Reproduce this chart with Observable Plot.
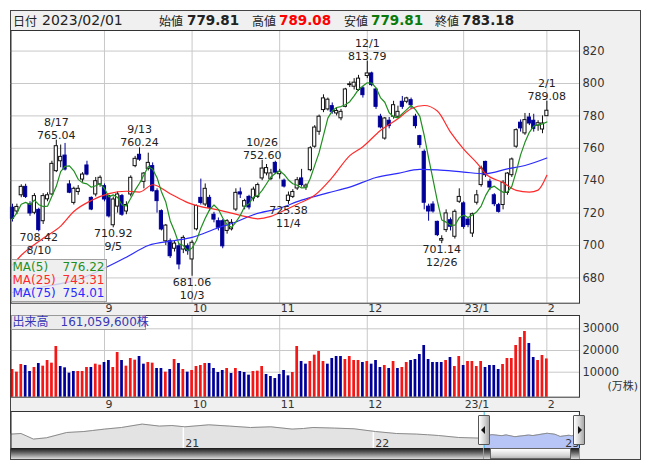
<!DOCTYPE html>
<html lang="ja"><head><meta charset="utf-8">
<script src="https://cdn.jsdelivr.net/npm/d3@7"></script>
<script src="https://cdn.jsdelivr.net/npm/@observablehq/plot@0.6"></script>
<style>
html,body{margin:0;padding:0;background:#fff;}
body{position:relative;width:653px;height:470px;overflow:hidden;font-family:"DejaVu Sans","Noto Sans CJK JP",sans-serif;}
.a{position:absolute;}
.hk{position:absolute;top:11px;height:19px;line-height:19px;font-family:"Noto Sans CJK JP",sans-serif;font-size:12px;color:#222;white-space:nowrap;}
.hn{position:absolute;top:11px;height:19px;line-height:19px;font-family:"DejaVu Sans",sans-serif;font-size:14px;color:#222;white-space:nowrap;}
.hb{position:absolute;top:11px;height:19px;line-height:19px;font-family:"DejaVu Sans",sans-serif;font-size:13.5px;font-weight:bold;color:#222;white-space:nowrap;}
.row{position:relative;height:13.3px;line-height:13.3px;font-size:12px;white-space:nowrap;}
.row .v{position:absolute;right:1px;top:0;}
.row .nm{position:absolute;left:1px;top:0;}
</style></head><body>
<div class="a" style="left:10px;top:10px;width:631px;height:450px;background:#f0f0f0;border:1px solid #444;box-sizing:border-box"></div>
<div id="hdr"></div>
<div id="price" class="a" style="left:10px;top:30px;width:631px"></div>
<div id="vol" class="a" style="left:10px;top:315px;width:631px"></div>
<div id="nav" class="a" style="left:10px;top:410.7px;width:631px"></div>
<div id="overlay"></div>
<script>
// ---------------- data ----------------
const dates = ["8/2","8/3","8/4","8/5","8/8","8/9","8/10","8/12","8/15","8/16","8/17","8/18","8/19","8/22","8/23","8/24","8/25","8/26","8/29","8/30","8/31",
"9/1","9/2","9/5","9/6","9/7","9/8","9/9","9/12","9/13","9/14","9/15","9/16","9/20","9/21","9/22","9/26","9/27","9/28","9/29","9/30",
"10/3","10/4","10/5","10/6","10/7","10/11","10/12","10/13","10/14","10/17","10/18","10/19","10/20","10/21","10/24","10/25","10/26","10/27","10/28","10/31",
"11/1","11/2","11/4","11/7","11/8","11/9","11/10","11/11","11/14","11/15","11/16","11/17","11/18","11/21","11/22","11/24","11/25","11/28","11/29","11/30",
"12/1","12/2","12/5","12/6","12/7","12/8","12/9","12/12","12/13","12/14","12/15","12/16","12/19","12/20","12/21","12/22","12/23","12/26","12/27","12/28","12/29","12/30",
"1/4","1/5","1/6","1/10","1/11","1/12","1/13","1/16","1/17","1/18","1/19","1/20","1/23","1/24","1/25","1/26","1/27","1/30","1/31",
"2/1"];
const opens = [723.3,721,731,736.2,725.3,720.2,722,715,728.5,731.5,
745.9,752,755.5,737.7,726.3,733,740.7,749.4,729.4,731.5,
737.7,736.6,730.5,712.5,724,730.5,721,731.5,749,756,
739.3,747.3,749,733.5,721.2,702.6,702.6,698,699.5,697.5,
699.5,691.4,710,729.4,725.3,729.4,719,715,715,709,
710,722.2,732.8,724,730,729,730,741.4,744.5,741,
751,744,740,727.5,730,735.2,741.4,735.8,746.5,761,
770.2,783.6,784,786,781.5,778.5,785.6,799,798,796,
797,804.6,806.2,796.3,779.5,766,777,779.5,779.5,788.7,
788.7,789.7,779.5,767.5,757.8,724,725.3,714.6,703,709.5,
715.6,705.4,727,726,716,707.4,726.4,737.3,751.6,739.3,
731,724.9,725,732.5,743.4,761,775.8,769.2,779,777,
774,771.6,779.81];
const highs = [725.5,725.5,737.5,737.8,727,732,723,732,732.5,752,
765.04,762,763,740,736,737,745,752,730,742,
743,738,731,730,733,731.5,727,743,755,760.24,
745,757,751,735,722,713,704,703,701,706,
701,703,725,741,738,731,720.5,717,716,716,
716,735,735.5,728.5,731,736,738.5,752.6,750,747,
752,747,741,733,734.5,742,747,738,761,774,
780.5,793,791,788,785,784,797,801,803,805,
798,813.79,807,797,781,779,779,789,786,792,
791.5,791,781,768,759,725.5,727,715,706,722,
717,722,735,727,717,720,734,749,752,741,
732,726,740,745,754,772,777.5,781.5,781.5,781,
777,780,789.08];
const lows = [714.5,719,729.5,729,718,719,708.42,713,727,731,
745,748,746,732,725,731,739,743,721.5,730,
736,727,717,710.92,720,718,719,730,748,752,
735,746,733,720,709,700,692,696,685,695,
694,681.06,709,725,724,721,714,709,698,707,
709,721,729,722,722,727,729,740,743,740,
744,741,735.5,725.38,729,734,736,734,745.5,760,
768,782,783,781,780,777,785,797.5,796,795,
791,803,798,784,772,765,772,778,778.5,784,
787.5,784,772,760,722,715,720,705.5,701.14,708,
709,704,726,710,711,705,725,736,742,734,
724,720,722,731,742,760,770,768,774,770,
770.5,769,779.81];
const closes = [716.5,723.8,736.2,730,719.8,730.5,709.5,730.5,731,750.4,
761.3,754.7,746.9,732.6,735,735,743.8,743.8,722.2,739.7,
741.8,728.4,718,728.4,731.5,719,725,741.8,753.5,753,
744.4,751,733.5,727.4,709.9,712.3,693.4,701.2,688.3,704.7,
696.5,701.7,724.4,726.3,735,723.3,716,711,699.5,715,
714,732.5,731.5,727.4,723.5,734.5,737.3,747.5,747.8,744.5,
745,745.5,736.4,730.8,733,740.3,737.3,737,760,772.8,
779.5,790.8,790,782.5,783,782.5,796.3,799.5,800.5,803,
792.8,806.2,799,785.6,772.9,778.4,773.7,786.6,782.5,785.6,
790.8,786.6,773.7,762,726.4,721,721,706.4,704,719.8,
711.6,720.8,730,711.5,712.6,719.3,731,747.5,743.4,735.8,
725.5,720.8,738.7,744.4,753.1,771.2,772.3,777.4,775.3,772,
775.5,775.3,783.18];
// volume in 万株
const volumes = [11243,10014,13548,13087,10322,12165,14008,12779,15391,14161,
21842,12626,12012,9553,10322,10322,10322,12165,12165,13701,
13240,14469,15391,12165,19077,15391,12779,16312,15544,17234,
13701,14469,14161,11704,11704,10014,11243,15851,14008,11243,
10014,10783,12626,13087,14008,14008,11704,9861,10783,11704,
9400,11704,10322,9861,8631,10322,10475,12626,8940,8018,
7096,8940,10783,8325,9861,21842,14930,13701,14930,17848,
19539,14930,13701,16312,17234,17234,15851,17234,15391,15391,
14469,14930,13701,15391,12165,13087,11704,14930,11704,12165,
14469,15391,15851,18155,22303,15851,14469,14469,14469,15391,
16773,12626,17234,13087,14930,14930,12626,14930,12165,13087,
13087,11243,13548,16312,16312,22303,25989,28754,23224,16773,
15391,17695,16105.96];
// 1 = up vs previous close (red), 0 = down (blue)
const volUp = [1,1,1,0,0,1,0,1,1,1, 1,0,0,0,0,1,1,1,0,1, 1,0,0,1,1,0,1,1,1,0,
0,1,1,0,0,1,0,1,0,1, 0,1,1,1,1,0,0,0,0,1, 0,1,0,0,0,1,1,1,0,0,
0,0,0,0,1,1,0,0,1,1, 1,1,0,0,0,0,1,1,1,1, 0,1,0,0,0,1,0,1,0,1,
1,0,0,0,0,0,0,0,0,1, 0,1,1,0,1,1,1,1,0,0, 0,0,1,1,1,1,1,1,0,0, 1,1,1];
const ma25Idx = [0,2,7,11,14,18,22,26,29,32,36,40,43,46,50,53,56,59,62,65,69,73,77,80,84,88,91,94,97,100,103,106,108,112,115,118,120,122];
const ma25Val = [688,694,704.5,712,721,727.8,732,733.5,733,737.5,732,726.5,724,722.5,720,718,716.5,718,721.6,725.5,731,742,755.5,761,771,778.2,784.4,786.4,783,770,759.5,751,744.3,738.8,734,732.9,734.2,743.31];
const ma75Idx = [0,8,15,21,26,31,37,41,47,51,55,61,66,72,77,83,88,93,97,103,108,113,117,122];
const ma75Val = [671,675,679,686,692.8,700,703,705,711,714.5,719,723,728,732.5,736,742,744.5,747,746.7,745.3,744.3,747.3,749.4,754.01];
const maNames = ["MA(5)","MA(25)","MA(75)"];
const maLatest = [776.22,743.31,754.01];
const priceTicks = [680,700,720,740,760,780,800,820];
const volTicks = [10000,20000,30000];
const monthLabels = ["9","10","11","12","23/1","2"];
const highLabelDates = ["8/17","9/13","10/26","12/1","2/1"];
const lowLabelDates = ["8/10","9/5","10/3","11/4","12/26"];
const lastDateFull = "2023/02/01";
const lastVolumeShares = 161059600;
const rangeStart = "2022-08-02", rangeEnd = "2023-02-01";
const navDates = ["2020-02-05","2020-02-24","2020-03-05","2020-03-19","2020-04-13","2020-05-22","2020-06-24","2020-07-10","2020-08-03","2020-09-04","2020-10-14","2020-11-16","2020-12-10",
"2021-01-04","2021-02-19","2021-03-31","2021-05-10","2021-06-18","2021-07-29","2021-08-20","2021-09-07","2021-10-18","2021-11-25",
"2022-01-05","2022-02-14","2022-03-25","2022-04-15","2022-05-06","2022-06-14","2022-07-22",
"2022-08-02","2022-08-17","2022-09-05","2022-09-13","2022-09-30","2022-10-26","2022-11-04","2022-12-01","2022-12-16","2022-12-26","2023-01-12","2023-01-17","2023-02-01"];
const navValues = [778,798,725,619,660,830,861,892,938,989,1098,1034,1052,
1011,1075,1034,989,1011,938,958,989,970,948,
861,798,778,758,734,670,651,
716,761,728,753,696,747,731,806,774,704,743,721,783];
const navYearLabels = ["21","22","23"];
const navYearDates = ["2021-01-01","2022-01-01","2023-01-01"];
const navYDomain = [300,1500];

// ---------------- colors / style ----------------
const C_DOWN = "#000099", C_UP_VOL = "#f51616";
const C_MA5 = "#1f8f1f", C_MA25 = "#ff2a2a", C_MA75 = "#2a2aff";
const GRID = "#c8c8c8";
const FONT = "'DejaVu Sans','Noto Sans CJK JP',sans-serif";
const baseStyle = {fontFamily: FONT, background: "transparent", overflow: "visible", color: "#333"};

const N = dates.length;
const candles = d3.range(N).map(i => ({i, o: opens[i], h: highs[i], l: lows[i], c: closes[i], up: closes[i] >= opens[i]}));
const ma5 = d3.range(N).map(i => ({i, v: d3.mean(closes.slice(Math.max(0, i - 4), i + 1))}));
const ma25 = ma25Idx.map((i, k) => ({i, v: ma25Val[k]}));
const ma75 = ma75Idx.map((i, k) => ({i, v: ma75Val[k]}));
const monthIdx = d3.range(1, N).filter(i => dates[i].split("/")[0] !== dates[i - 1].split("/")[0]);
const highAnn = highLabelDates.map(dt => { const i = dates.indexOf(dt); return {i, y: highs[i], date: dt, val: highs[i].toFixed(2)}; });
const lowAnn = lowLabelDates.map(dt => { const i = dates.indexOf(dt); return {i, y: lows[i], date: dt, val: lows[i].toFixed(2)}; });
const vols = volumes.map((v, i) => ({i, v, up: volUp[i] === 1}));

const xDomain = [-0.342, 129.45];
const monthFmt = d => monthLabels[monthIdx.indexOf(d)];
const annOpts = {x: "i", y: "y", fontSize: 11, fill: "#222"};

// ---------------- price chart ----------------
const priceChart = Plot.plot({
  width: 631, height: 285,
  marginLeft: 0.5, marginRight: 62, marginTop: 0, marginBottom: 12.3,
  x: {domain: xDomain, axis: null},
  y: {domain: [664.4, 832.7], axis: null},
  color: {type: "identity"},
  style: baseStyle,
  marks: [
    Plot.frame({fill: "white", stroke: "none"}),
    Plot.ruleY(priceTicks, {stroke: GRID}),
    Plot.ruleX(monthIdx, {stroke: GRID}),
    Plot.ruleX(candles, {x: "i", y1: "l", y2: "h", stroke: d => d.up ? "#111" : C_DOWN}),
    Plot.rect(candles, {x1: d => d.i - 0.36, x2: d => d.i + 0.36, y1: d => Math.min(d.o, d.c), y2: d => Math.max(d.o, d.c),
      fill: d => d.up ? "#fff" : C_DOWN, stroke: d => d.up ? "#111" : C_DOWN, strokeWidth: 1}),
    Plot.line(ma75, {x: "i", y: "v", stroke: C_MA75, strokeWidth: 1.2, curve: "monotone-x"}),
    Plot.line(ma25, {x: "i", y: "v", stroke: C_MA25, strokeWidth: 1.2, curve: "monotone-x"}),
    Plot.line(ma5, {x: "i", y: "v", stroke: C_MA5, strokeWidth: 1.2}),
    Plot.text(highAnn, {...annOpts, text: "val", lineAnchor: "bottom", dy: -1.5}),
    Plot.text(highAnn, {...annOpts, text: "date", lineAnchor: "bottom", dy: -14.5}),
    Plot.text(lowAnn, {...annOpts, text: "val", lineAnchor: "top", dy: 1.5}),
    Plot.text(lowAnn, {...annOpts, text: "date", lineAnchor: "top", dy: 14.5}),
    Plot.axisY(priceTicks, {anchor: "right", tickSize: 0, tickPadding: 3, fontSize: 11.5, label: null, tickFormat: d => String(d)}),
    Plot.axisX(monthIdx, {anchor: "bottom", tickSize: 0, tickPadding: 0.6, tickFormat: monthFmt, textAnchor: "start", dx: 1, fontSize: 11, label: null}),
    Plot.frame({stroke: "#333"})
  ]
});
document.getElementById("price").append(priceChart);

// ---------------- volume chart ----------------
const volDomain = [-1519, 36129];
const volChart = Plot.plot({
  width: 631, height: 95.7,
  marginLeft: 0.5, marginRight: 62, marginTop: 0, marginBottom: 14,
  x: {domain: xDomain, axis: null},
  y: {domain: volDomain, axis: null},
  color: {type: "identity"},
  style: baseStyle,
  marks: [
    Plot.frame({fill: "white", stroke: "none"}),
    Plot.ruleY(volTicks, {stroke: GRID}),
    Plot.ruleX(monthIdx, {stroke: GRID}),
    Plot.rect(vols, {x1: d => d.i - 0.31, x2: d => d.i + 0.31, y1: () => volDomain[0], y2: "v", fill: d => d.up ? C_UP_VOL : C_DOWN}),
    Plot.axisY(volTicks, {anchor: "right", tickSize: 0, tickPadding: 3, fontSize: 11.5, label: null, tickFormat: d => String(d)}),
    Plot.text(["(万株)"], {frameAnchor: "bottom-right", text: d => d, textAnchor: "end", dx: 58.5, dy: -7, fontSize: 11, fill: "#333"}),
    Plot.axisX(monthIdx, {anchor: "bottom", tickSize: 0, tickPadding: 2.6, tickFormat: monthFmt, textAnchor: "start", dx: 1, fontSize: 11, label: null}),
    Plot.frame({stroke: "#333"})
  ]
});
document.getElementById("vol").append(volChart);

// ---------------- navigator ----------------
const nav = navDates.map((d, k) => ({date: new Date(d), v: navValues[k]}));
const selStart = new Date(rangeStart), selEnd = new Date(rangeEnd);
const navSel = nav.filter(d => d.date >= selStart);
const nearestNav = t => nav.reduce((a, b) => Math.abs(b.date - t) < Math.abs(a.date - t) ? b : a).v;
const yearMarks = navYearDates.map((d, k) => ({date: new Date(d), label: navYearLabels[k], v: nearestNav(new Date(d))}));
const navChart = Plot.plot({
  width: 631, height: 37.6,
  marginLeft: 0.5, marginRight: 62, marginTop: 0, marginBottom: 0,
  x: {type: "utc", domain: [new Date(navDates[0]), selEnd], axis: null},
  y: {domain: navYDomain, axis: null},
  style: baseStyle,
  marks: [
    Plot.frame({fill: "white", stroke: "none"}),
    Plot.areaY(nav, {x: "date", y1: () => navYDomain[0], y2: "v", fill: "#e3e3e3"}),
    Plot.areaY(navSel, {x: "date", y1: () => navYDomain[0], y2: "v", fill: "#b6c5f5"}),
    Plot.ruleX(yearMarks.slice(0, 2), {x: "date", y1: () => navYDomain[0], y2: "v", stroke: "white", strokeWidth: 1.5}),
    Plot.line(nav, {x: "date", y: "v", stroke: "#8c8c8c", strokeWidth: 1}),
    Plot.text(yearMarks, {x: "date", y: () => navYDomain[0], text: "label", textAnchor: "start", dx: 2, dy: -6, fontSize: 11, fill: "#333"}),
    Plot.ruleX([selStart, selEnd], {stroke: "#3cbfe0"}),
    Plot.frame({stroke: "#333"})
  ]
});
document.getElementById("nav").append(navChart);

// ---------------- HTML chrome ----------------
const fmt = v => v.toFixed(2);
const hdr = document.getElementById("hdr");
const hdrItems = [
  ["hk", 13, "日付", "#222"], ["hn", 42, lastDateFull, "#222"],
  ["hk", 159, "始値", "#222"], ["hb", 187, fmt(opens[N - 1]), "#222"],
  ["hk", 252, "高値", "#222"], ["hb", 279, fmt(highs[N - 1]), "#ff0000"],
  ["hk", 344, "安値", "#222"], ["hb", 371, fmt(lows[N - 1]), "#0a7a0a"],
  ["hk", 435, "終値", "#222"], ["hb", 462, fmt(closes[N - 1]), "#222"]
];
hdrItems.forEach(([cls, x, t, col]) => {
  const s = document.createElement("div");
  s.className = cls; s.style.left = x + "px"; s.style.color = col; s.textContent = t;
  hdr.append(s);
});

const ov = document.getElementById("overlay");
// MA legend
const maColors = [C_MA5, C_MA25, C_MA75];
const leg = document.createElement("div");
leg.className = "a";
Object.assign(leg.style, {left: "10.5px", top: "259px", width: "96px", height: "43px", background: "rgba(236,236,236,0.82)",
  border: "1px solid #a0a0a0", boxSizing: "border-box", paddingTop: "0.5px", fontFamily: FONT});
maNames.forEach((n, k) => {
  const r = document.createElement("div");
  r.className = "row"; r.style.color = maColors[k];
  r.innerHTML = `<span class="nm">${n}</span><span class="v">${maLatest[k].toFixed(2)}</span>`;
  leg.append(r);
});
ov.append(leg);
// Volume legend
const vleg = document.createElement("div");
vleg.className = "a";
Object.assign(vleg.style, {left: "10.5px", top: "315px", width: "135px", height: "14.5px", background: "#ececec",
  border: "1px solid #999", boxSizing: "border-box", fontSize: "12px", lineHeight: "12.5px", color: "#3838b6",
  fontFamily: FONT, paddingLeft: "1px", whiteSpace: "nowrap"});
vleg.textContent = "出来高\u3000" + d3.format(",")(lastVolumeShares) + "株";
ov.append(vleg);

// scrollbar + handles positioned from the navigator's x scale
const nx = navChart.scale("x");
const xs = 10 + nx.apply(selStart), xe = 10 + nx.apply(selEnd);
function box(styles) { const d = document.createElement("div"); d.className = "a"; Object.assign(d.style, styles); ov.append(d); return d; }
box({left: "10.5px", top: "448.3px", width: (xe - 10.5) + "px", height: "11px", background: "linear-gradient(#1a1a1a, #555 35%, #bdbdbd 85%, #e0e0e0)"});
box({left: (xs + 6.5) + "px", top: "448.3px", width: (xe - xs - 14) + "px", height: "11px", background: "linear-gradient(#ffffff, #d6d6d6 70%, #b8b8b8)", border: "1px solid #666", boxSizing: "border-box"});
box({left: (xs - 0.5) + "px", top: "448.3px", width: "1px", height: "11px", background: "#3cbfe0"});
box({left: (xe - 0.5) + "px", top: "448.3px", width: "1px", height: "11px", background: "#3cbfe0"});
function handle(cx, dir) {
  const h = box({left: (cx - 6) + "px", top: "415px", width: "12px", height: "30px", background: "linear-gradient(to right, #ffffff, #d0d0d0 60%, #a8a8a8)", border: "1px solid #555", boxSizing: "border-box", borderRadius: "1px"});
  const t = document.createElement("div");
  Object.assign(t.style, {position: "absolute", top: "10px", width: "0", height: "0", borderTop: "4px solid transparent", borderBottom: "4px solid transparent"});
  if (dir < 0) { t.style.left = "2.5px"; t.style.borderRight = "4px solid #111"; } else { t.style.left = "3.5px"; t.style.borderLeft = "4px solid #111"; }
  h.append(t);
}
handle(xs, -1);
handle(xe, 1);
</script>
</body></html>
